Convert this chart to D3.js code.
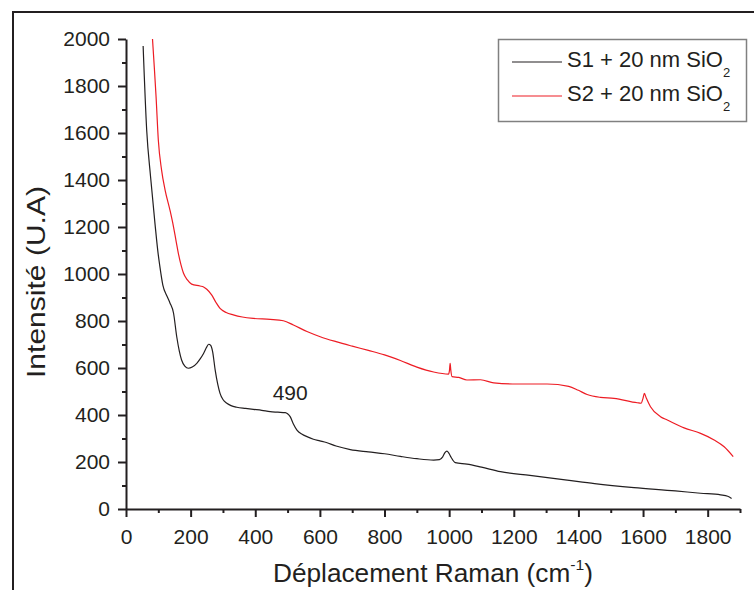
<!DOCTYPE html>
<html>
<head>
<meta charset="utf-8">
<script src="https://cdn.jsdelivr.net/npm/d3@7"></script>
<style>
body { margin: 0; background: #fff; }
svg { display: block; }
text { font-family: "Liberation Sans", Arial, sans-serif; fill: #231f20; }
</style>
</head>
<body>
<svg id="svg0"></svg>
<script>
// data: [Raman shift (cm-1), intensity (U.A)]
let ramanS1 = [
    [53, 1970], [64, 1613], [76, 1414], [90, 1210], [100, 1080], [104, 1040], [114, 953],
    [127, 905], [136, 877], [147, 834], [157, 733], [165, 672], [172, 634], [182, 608],
    [193, 599], [205, 604], [219, 620], [230, 640], [240, 662], [250, 690], [256, 701],
    [262, 696], [268, 670], [276, 591], [284, 530], [291, 492], [300, 466], [312, 450],
    [325, 440], [343, 433], [370, 428], [394, 424], [420, 420], [446, 414], [470, 412],
    [493, 410], [500, 405], [508, 393], [518, 362], [529, 336], [545, 318], [560, 308],
    [580, 297], [600, 290], [620, 283], [650, 268], [694, 253], [750, 243], [800, 235],
    [849, 224], [900, 214], [952, 208], [970, 210], [980, 222], [987, 240],
    [993, 246], [999, 238], [1006, 220], [1019, 197], [1055, 191], [1100, 178], [1159, 159],
    [1250, 143], [1365, 123], [1450, 108], [1572, 91], [1700, 77], [1778, 67], [1840, 60],
    [1862, 54], [1874, 45]
];
let ramanS2 = [
    [82, 2000], [88, 1870], [93, 1755], [100, 1570], [110, 1443], [121, 1357], [136, 1272],
    [147, 1201], [155, 1140], [162, 1088], [170, 1040], [178, 1003], [190, 975], [203, 957],
    [229, 949], [240, 945], [250, 935], [265, 911], [278, 880], [291, 854], [310, 836],
    [332, 826], [360, 817], [394, 811], [446, 807], [487, 801], [518, 783], [560, 755],
    [601, 733], [650, 712], [700, 693], [750, 675], [800, 656], [849, 632], [900, 604],
    [952, 583], [998, 574], [1001, 590], [1003, 620], [1005, 592], [1009, 563], [1030, 560],
    [1055, 549], [1097, 550], [1138, 537], [1210, 532], [1303, 532], [1370, 522], [1400, 505],
    [1427, 487], [1468, 475], [1510, 471], [1582, 452], [1594, 450], [1600, 472], [1604, 492],
    [1610, 472], [1623, 435], [1654, 393], [1675, 379], [1727, 345], [1778, 322], [1820, 294],
    [1851, 265], [1879, 223]
];
let seriesNames = ['S1 + 20 nm SiO', 'S2 + 20 nm SiO'];
let seriesColors = ['#231f20', '#ed1c24'];
let xMajorTicks = [0, 200, 400, 600, 800, 1000, 1200, 1400, 1600, 1800];
let xMinorTicks = [100, 300, 500, 700, 900, 1100, 1300, 1500, 1700, 1900];
let yMajorTicks = [0, 200, 400, 600, 800, 1000, 1200, 1400, 1600, 1800, 2000];
let yMinorTicks = [100, 300, 500, 700, 900, 1100, 1300, 1500, 1700, 1900];
let peakLabel = {text: '490', x: 508, y: 464};

let width = 754, height = 590;
let margin = {top: 39, right: 14, bottom: 81, left: 126};
let plotW = width - margin.left - margin.right;
let plotH = height - margin.top - margin.bottom;

let svg = d3.select('#svg0').attr('width', width).attr('height', height);

// outer frame (left and top only)
svg.append('path').attr('d', 'M13,' + height + 'V12H' + width)
    .attr('fill', 'none').attr('stroke', '#231f20').attr('stroke-width', 2);

let g = svg.append('g').attr('transform', 'translate(' + margin.left + ',' + margin.top + ')');

let xScale = d3.scaleLinear().domain([0, 1900]).range([0, plotW]);
let yScale = d3.scaleLinear().domain([0, 2000]).range([plotH, 0]);

// minor ticks
g.append('g').attr('class', 'minor').attr('transform', 'translate(0,' + plotH + ')')
    .call(d3.axisBottom(xScale).tickValues(xMinorTicks).tickSize(4).tickSizeOuter(0).tickFormat(''));
g.append('g').attr('class', 'minor')
    .call(d3.axisLeft(yScale).tickValues(yMinorTicks).tickSize(4).tickSizeOuter(0).tickFormat(''));
g.selectAll('.minor .domain').remove();

// major axes
g.append('g').attr('class', 'axis').attr('transform', 'translate(0,' + plotH + ')')
    .call(d3.axisBottom(xScale).tickValues(xMajorTicks).tickSize(8).tickPadding(12).tickSizeOuter(0).tickFormat(d3.format('d')));
g.append('g').attr('class', 'axis')
    .call(d3.axisLeft(yScale).tickValues(yMajorTicks).tickSize(8).tickPadding(8).tickSizeOuter(0).tickFormat(d3.format('d')));

g.selectAll('.axis text').style('font-size', '21px').attr('fill', '#231f20');
g.selectAll('.axis .domain, .axis line, .minor line').attr('stroke', '#231f20').attr('stroke-width', 2);

// curves
let line = d3.line().x(d => xScale(d[0])).y(d => yScale(d[1])).curve(d3.curveMonotoneX);
[ramanS1, ramanS2].forEach((s, i) => {
    g.append('path').datum(s).attr('d', line)
        .attr('fill', 'none').attr('stroke', seriesColors[i]).attr('stroke-width', 1.2);
});

// peak annotation
g.append('text').attr('x', xScale(peakLabel.x)).attr('y', yScale(peakLabel.y))
    .attr('text-anchor', 'middle').style('font-size', '21px').text(peakLabel.text);

// axis titles
let xt = svg.append('text').attr('x', 273).attr('y', 582).style('font-size', '25px')
    .attr('textLength', 320).attr('lengthAdjust', 'spacingAndGlyphs');
xt.append('tspan').text('Déplacement Raman (cm');
xt.append('tspan').attr('dy', -12).style('font-size', '15px').text('-1');
xt.append('tspan').attr('dy', 12).text(')');

svg.append('text').attr('transform', 'translate(45,282) rotate(-90)')
    .attr('text-anchor', 'middle').style('font-size', '25px')
    .attr('textLength', 192).attr('lengthAdjust', 'spacingAndGlyphs')
    .text('Intensité (U.A)');

// legend
let lg = svg.append('g');
lg.append('rect').attr('x', 498.5).attr('y', 39.5).attr('width', 248).attr('height', 82)
    .attr('fill', '#fff').attr('stroke', '#808080').attr('stroke-width', 1.5);
seriesNames.forEach((name, i) => {
    let cy = 62 + i * 34;
    lg.append('line').attr('x1', 512).attr('x2', 562).attr('y1', cy).attr('y2', cy)
        .attr('stroke', seriesColors[i]).attr('stroke-width', 1.2);
    let t = lg.append('text').attr('x', 567).attr('y', cy + 5).style('font-size', '22px');
    t.append('tspan').text(name);
    t.append('tspan').attr('dy', 10).style('font-size', '13px').text('2');
});
</script>
</body>
</html>
